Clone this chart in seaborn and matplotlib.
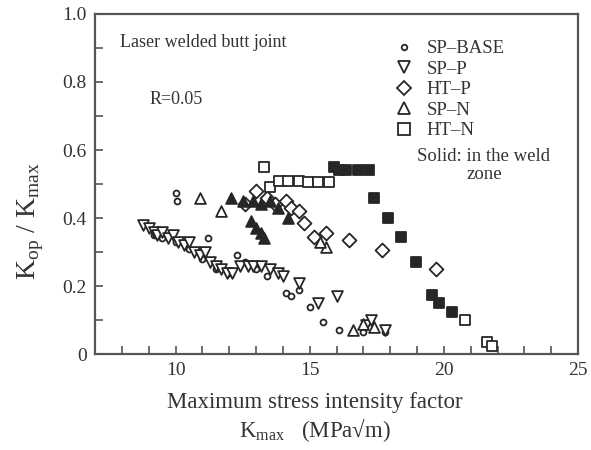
import matplotlib
matplotlib.use("Agg")
import matplotlib.pyplot as plt
from matplotlib.lines import Line2D
from matplotlib.ticker import MultipleLocator, FuncFormatter
import seaborn as sns
import pandas as pd

sns.set_theme(style="ticks")
plt.rcParams["font.family"] = ["Liberation Serif", "DejaVu Serif"]
plt.rcParams["mathtext.fontset"] = "custom"
plt.rcParams["mathtext.rm"] = "Liberation Serif"

# ---- data (Kmax, Kop/Kmax) ----
sp_base_x = [10.0, 10.05, 11.2, 9.2, 9.5, 10.0, 10.5, 11.0, 11.5, 12.0, 12.3, 12.6, 13.0, 13.4,
             14.1, 14.3, 14.6, 15.0, 15.5, 16.1, 17.0, 17.8]
sp_base_y = [0.475, 0.45, 0.34, 0.35, 0.34, 0.33, 0.31, 0.28, 0.25, 0.24, 0.29, 0.27, 0.25, 0.23,
             0.18, 0.17, 0.19, 0.14, 0.094, 0.07, 0.065, 0.065]

sp_p_x = [8.8, 9.0, 9.2, 9.3, 9.5, 9.7, 9.9, 10.1, 10.3, 10.5, 10.7, 10.9, 11.1, 11.3, 11.5, 11.7,
          11.9, 12.1, 12.4, 12.7, 12.9, 13.2, 13.5, 13.8, 14.0, 14.6, 15.3, 16.0, 17.1, 17.3, 17.8]
sp_p_y = [0.38, 0.37, 0.36, 0.35, 0.36, 0.34, 0.35, 0.33, 0.32, 0.33, 0.30, 0.29, 0.30, 0.27, 0.26, 0.25,
          0.24, 0.24, 0.26, 0.26, 0.26, 0.26, 0.25, 0.24, 0.23, 0.21, 0.15, 0.17, 0.085, 0.10, 0.07]

ht_p_x = [12.6, 13.0, 13.4, 13.7, 14.1, 14.3, 14.6, 14.8, 15.15, 15.6, 16.45, 17.7, 19.7]
ht_p_y = [0.44, 0.48, 0.46, 0.44, 0.45, 0.43, 0.42, 0.385, 0.345, 0.355, 0.335, 0.305, 0.25]

sp_n_x = [10.9, 11.7, 15.6, 15.4, 16.6, 17.0, 17.4]
sp_n_y = [0.46, 0.42, 0.315, 0.33, 0.07, 0.09, 0.08]

sp_n_solid_x = [12.05, 12.5, 12.9, 13.2, 13.5, 13.8, 14.2, 12.8, 13.0, 13.2, 13.3]
sp_n_solid_y = [0.46, 0.45, 0.45, 0.44, 0.45, 0.43, 0.40, 0.39, 0.37, 0.355, 0.34]

ht_n_x = [13.3, 13.5, 13.85, 14.2, 14.6, 14.95, 15.3, 15.7, 20.8, 21.6, 21.8]
ht_n_y = [0.55, 0.49, 0.51, 0.51, 0.51, 0.505, 0.505, 0.505, 0.10, 0.035, 0.025]

ht_n_solid_x = [15.9, 16.1, 16.35, 16.8, 17.2, 17.4, 17.9, 18.4, 18.95, 19.55, 19.8, 20.3]
ht_n_solid_y = [0.55, 0.54, 0.54, 0.54, 0.54, 0.46, 0.40, 0.345, 0.27, 0.175, 0.15, 0.125]

series_labels = ["SP\u2013BASE", "SP\u2013P", "HT\u2013P", "SP\u2013N", "HT\u2013N"]

ink = "#262626"
txt = "#333333"
fig = plt.figure(figsize=(5.91, 4.5), dpi=100)
ax = fig.add_axes([0.161, 0.213, 0.817, 0.756])

def draw(xs, ys, marker, size, filled):
    df = pd.DataFrame({"x": xs, "y": ys})
    sns.scatterplot(data=df, x="x", y="y", ax=ax, marker=marker, s=size,
                    facecolor=ink if filled else "white", edgecolor=ink,
                    linewidth=1.3, legend=False, zorder=3)

draw(sp_base_x, sp_base_y, "o", 18, False)
draw(sp_p_x, sp_p_y, "v", 60, False)
draw(ht_p_x, ht_p_y, "D", 50, False)
draw(sp_n_x, sp_n_y, "^", 60, False)
draw(sp_n_solid_x, sp_n_solid_y, "^", 60, True)
draw(ht_n_x, ht_n_y, "s", 60, False)
draw(ht_n_solid_x, ht_n_solid_y, "s", 60, True)

ax.set_xlim(7, 25)
ax.set_ylim(0, 1.0)
ax.xaxis.set_major_locator(MultipleLocator(5))
ax.xaxis.set_minor_locator(MultipleLocator(1))
ax.yaxis.set_major_locator(MultipleLocator(0.2))
ax.yaxis.set_minor_locator(MultipleLocator(0.1))
ax.yaxis.set_major_formatter(FuncFormatter(lambda v, p: "0" if abs(v) < 1e-9 else f"{v:.1f}"))
ax.tick_params(which="both", direction="in", length=6, width=1.2, color="#555555",
               labelsize=14, labelcolor=txt, top=False, right=False, pad=6)
for s in ax.spines.values():
    s.set_color("#555555")
    s.set_linewidth(1.6)

ax.set_xlabel("Maximum stress intensity factor\nK$_{\\rm max}$   (MPa\u221am)",
              fontsize=16.5, color=txt, labelpad=9, linespacing=1.15)
ax.xaxis.label.set_x(0.455)
ax.set_ylabel("K$_{\\rm op}$ / K$_{\\rm max}$", fontsize=20, color=txt, labelpad=12)
ax.yaxis.label.set_y(0.39)

ax.text(0.052, 0.915, "Laser welded butt joint", transform=ax.transAxes, fontsize=13,
        color=txt, va="center")
ax.text(0.113, 0.75, "R=0.05", transform=ax.transAxes, fontsize=13, color=txt, va="center")

handles = [
    Line2D([], [], ls="none", marker="o", ms=4, mfc="white", mec=ink, mew=1.3),
    Line2D([], [], ls="none", marker="v", ms=8, mfc="white", mec=ink, mew=1.3),
    Line2D([], [], ls="none", marker="D", ms=7, mfc="white", mec=ink, mew=1.3),
    Line2D([], [], ls="none", marker="^", ms=8, mfc="white", mec=ink, mew=1.3),
    Line2D([], [], ls="none", marker="s", ms=8, mfc="white", mec=ink, mew=1.3),
]
leg = ax.legend(handles, series_labels, loc="upper left", bbox_to_anchor=(0.605, 0.945),
                frameon=False, fontsize=13.5, handlelength=1.0, handletextpad=0.7,
                labelspacing=0.18, borderaxespad=0)
for t in leg.get_texts():
    t.set_color(txt)
ax.text(0.805, 0.555, "Solid: in the weld\nzone", transform=ax.transAxes, fontsize=13.5,
        color=txt, ha="center", va="center", linespacing=1.05)

fig.savefig("out.png", dpi=100)
